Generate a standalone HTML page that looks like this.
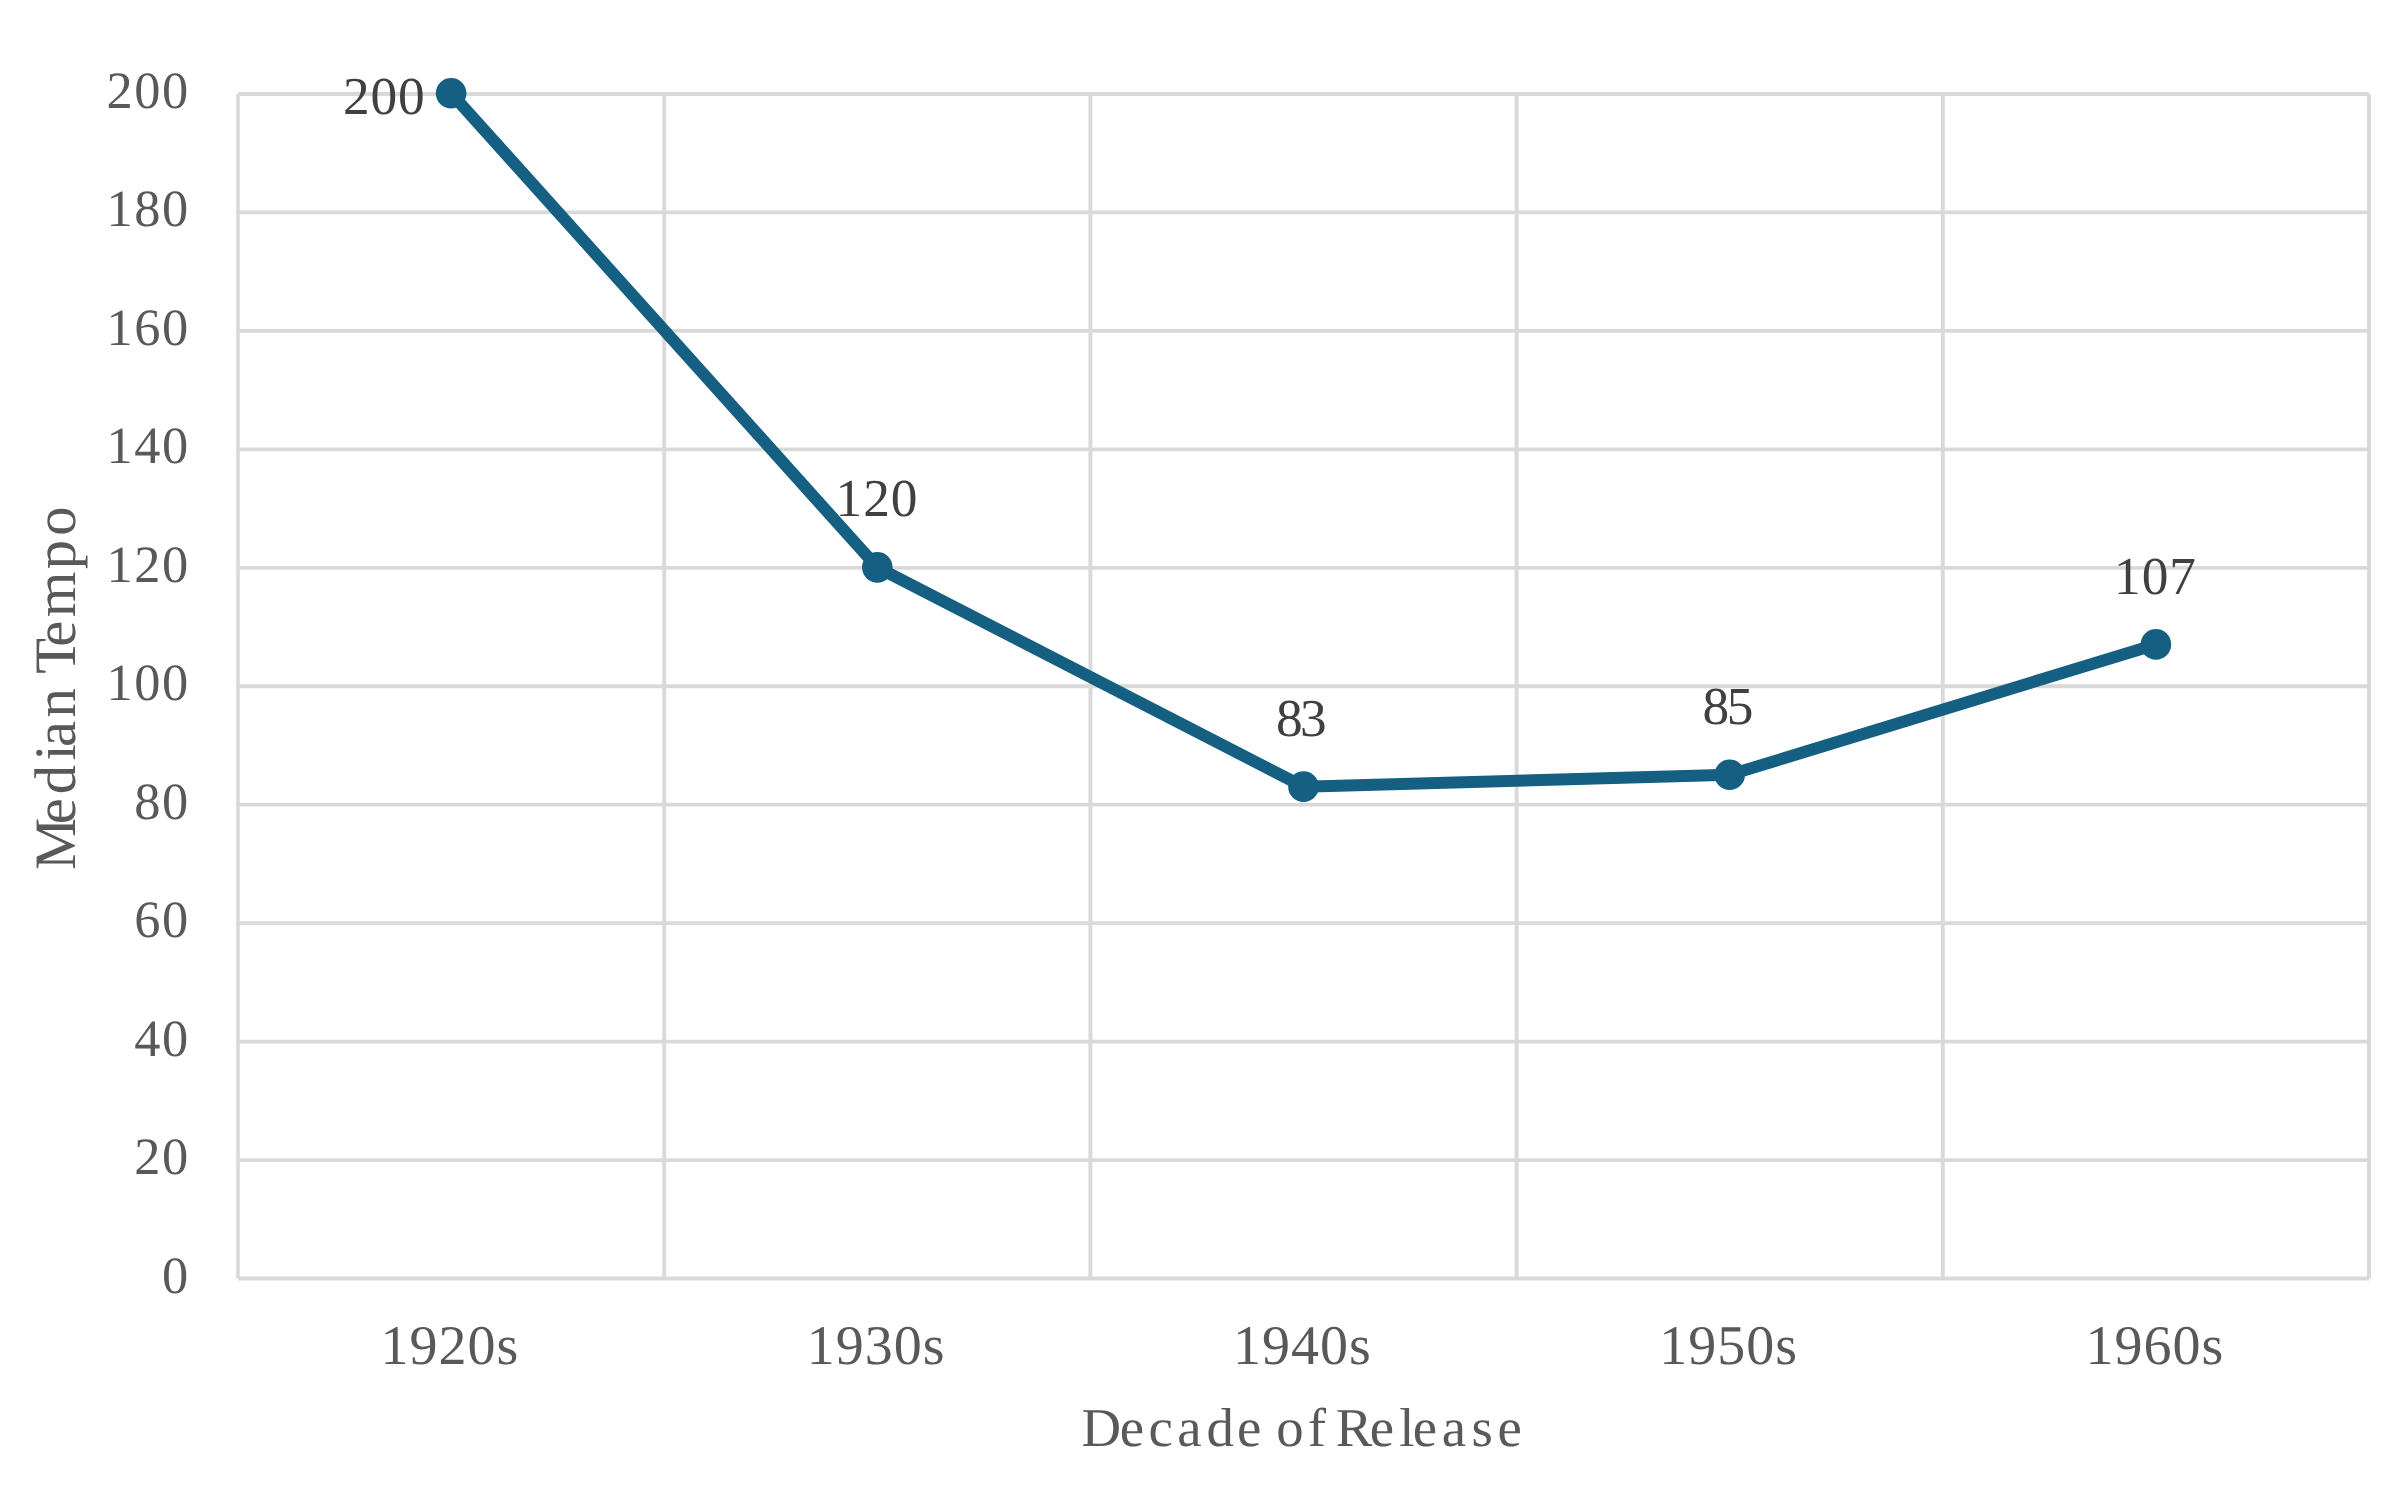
<!DOCTYPE html>
<html lang="en"><head><meta charset="utf-8"><title>Median Tempo by Decade of Release</title>
<style>
html,body{margin:0;padding:0;background:#fff;}
body{width:2404px;height:1508px;overflow:hidden;}
svg{display:block;}
text{font-family:"Liberation Serif",serif;font-size:53.33px;fill:#595959;text-rendering:geometricPrecision;}
.dl{fill:#404040;}
</style></head><body>
<svg width="2404" height="1508" viewBox="0 0 2404 1508">
<rect width="2404" height="1508" fill="#fff"/>
<g stroke="#D9D9D9" stroke-width="3.8" fill="none" stroke-linecap="butt">
<line x1="238.00" y1="94.00" x2="2369.00" y2="94.00"/>
<line x1="238.00" y1="212.45" x2="2369.00" y2="212.45"/>
<line x1="238.00" y1="330.90" x2="2369.00" y2="330.90"/>
<line x1="238.00" y1="449.35" x2="2369.00" y2="449.35"/>
<line x1="238.00" y1="567.80" x2="2369.00" y2="567.80"/>
<line x1="238.00" y1="686.25" x2="2369.00" y2="686.25"/>
<line x1="238.00" y1="804.70" x2="2369.00" y2="804.70"/>
<line x1="238.00" y1="923.15" x2="2369.00" y2="923.15"/>
<line x1="238.00" y1="1041.60" x2="2369.00" y2="1041.60"/>
<line x1="238.00" y1="1160.05" x2="2369.00" y2="1160.05"/>
<line x1="238.00" y1="1278.50" x2="2369.00" y2="1278.50"/>
</g>
<g stroke="#D9D9D9" stroke-width="3.9" fill="none">
<line x1="238.00" y1="94.00" x2="238.00" y2="1278.50" stroke-width="3.5"/>
<line x1="664.20" y1="94.00" x2="664.20" y2="1278.50"/>
<line x1="1090.40" y1="94.00" x2="1090.40" y2="1278.50"/>
<line x1="1516.60" y1="94.00" x2="1516.60" y2="1278.50"/>
<line x1="1942.80" y1="94.00" x2="1942.80" y2="1278.50"/>
<line x1="2369.00" y1="94.00" x2="2369.00" y2="1278.50"/>
</g>
<g text-anchor="end" letter-spacing="1.55">
<text x="189.7" y="108.00" style="font-size:52.4px">200</text>
<text x="189.7" y="226.45" style="font-size:52.4px">180</text>
<text x="189.7" y="344.90" style="font-size:52.4px">160</text>
<text x="189.7" y="463.35" style="font-size:52.4px">140</text>
<text x="189.7" y="581.80" style="font-size:52.4px">120</text>
<text x="189.7" y="700.25" style="font-size:52.4px">100</text>
<text x="189.7" y="818.70" style="font-size:52.4px">80</text>
<text x="189.7" y="937.15" style="font-size:52.4px">60</text>
<text x="189.7" y="1055.60" style="font-size:52.4px">40</text>
<text x="189.7" y="1174.05" style="font-size:52.4px">20</text>
<text x="189.7" y="1292.50" style="font-size:52.4px">0</text>
</g>
<g text-anchor="middle" letter-spacing="1" font-size="56">
<text x="450.00" y="1363.7" style="font-size:56px">1920s</text>
<text x="876.20" y="1363.7" style="font-size:56px">1930s</text>
<text x="1302.40" y="1363.7" style="font-size:56px">1940s</text>
<text x="1728.60" y="1363.7" style="font-size:56px">1950s</text>
<text x="2154.80" y="1363.7" style="font-size:56px">1960s</text>
</g>
<text x="1081.42 1119.76 1148.61 1177.37 1206.62 1237.06 1261.38 1276.31 1307.81 1326.06 1335.82 1369.76 1399.20 1412.66 1441.77 1471.45 1497.46" y="1445.7" style="font-size:54.8px">Decade of Release</text>
<text transform="translate(75.0 0) rotate(-90)" x="-869.99 -824.19 -794.22 -760.53 -747.06 -717.45 -688.11 -673.86 -646.79 -617.23 -569.15 -535.73" y="0" style="font-size:58.67px">Median Tempo</text>
<polyline fill="none" stroke="#156082" stroke-width="12" stroke-linejoin="round" stroke-linecap="round" points="451.10,93.20 877.30,567.36 1303.50,786.66 1729.70,774.80 2155.90,644.41"/>
<g fill="#156082">
<circle cx="451.10" cy="93.20" r="15.3"/>
<circle cx="877.30" cy="567.36" r="15.3"/>
<circle cx="1303.50" cy="786.66" r="15.3"/>
<circle cx="1729.70" cy="774.80" r="15.3"/>
<circle cx="2155.90" cy="644.41" r="15.3"/>
</g>
<g class="dl">
<text class="dl" x="425.6" y="113.9" text-anchor="end" letter-spacing="0.9">200</text>
<text class="dl" x="876.95" y="516.20" text-anchor="middle" letter-spacing="0.9">120</text>
<text class="dl" x="1300.05" y="736.15" text-anchor="middle" letter-spacing="-2.6">83</text>
<text class="dl" x="1726.65" y="723.60" text-anchor="middle" letter-spacing="-2.6">85</text>
<text class="dl" x="2155.45" y="593.85" text-anchor="middle" letter-spacing="0.9">107</text>
</g>
</svg></body></html>
